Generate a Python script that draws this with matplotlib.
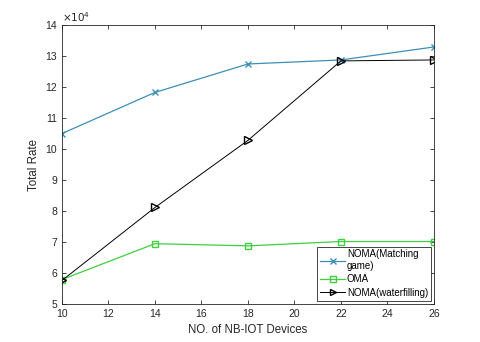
import matplotlib
matplotlib.use("Agg")
import matplotlib.pyplot as plt

plt.rcParams['font.family'] = ['Liberation Sans', 'DejaVu Sans']

devices = [10, 14, 18, 22, 26]
noma_matching = [10.50, 11.83, 12.75, 12.88, 13.30]
oma = [5.78, 6.94, 6.87, 7.01, 7.01]
noma_waterfilling = [5.75, 8.11, 10.28, 12.85, 12.88]

fig = plt.figure(figsize=(4.8, 3.42), dpi=100)
ax = fig.add_axes([0.129, 0.112, 0.775, 0.814])

ax.plot(devices, noma_matching, color='#3d8fb8', marker='x', markersize=5,
        linewidth=0.9, label='NOMA(Matching\ngame)')
ax.plot(devices, oma, color='#3fcf3f', marker='s', markersize=5,
        markerfacecolor='none', linewidth=0.9, label='OMA')
ax.plot(devices, noma_waterfilling, color='black', marker='>', markersize=6,
        markerfacecolor='none', linewidth=0.7, label='NOMA(waterfilling)')

ax.set_xlim(10, 26)
ax.set_ylim(5, 14)
ax.set_xticks([10, 12, 14, 16, 18, 20, 22, 24, 26])
ax.set_yticks(range(5, 15))
ax.tick_params(direction='in', top=True, right=True, labelsize=7.5,
               colors='#262626', length=3, width=0.6)
for s in ax.spines.values():
    s.set_color('#262626')
    s.set_linewidth(0.6)

ax.text(0.0, 1.005, r'$\times10^4$', transform=ax.transAxes, fontsize=7.5,
        color='#262626', va='bottom', ha='left')

ax.set_xlabel('NO. of NB-IOT Devices', fontsize=8.3, color='#262626')
ax.set_ylabel('Total Rate', fontsize=8.3, color='#262626')

leg = ax.legend(loc='lower right', fontsize=7, fancybox=False,
                edgecolor='#262626', framealpha=1, borderaxespad=0.3,
                handlelength=2.6, borderpad=0.3, labelspacing=0.35,
                handletextpad=0.15, markerscale=0.8)
leg.get_frame().set_linewidth(0.6)

fig.savefig('out.png', dpi=100)
